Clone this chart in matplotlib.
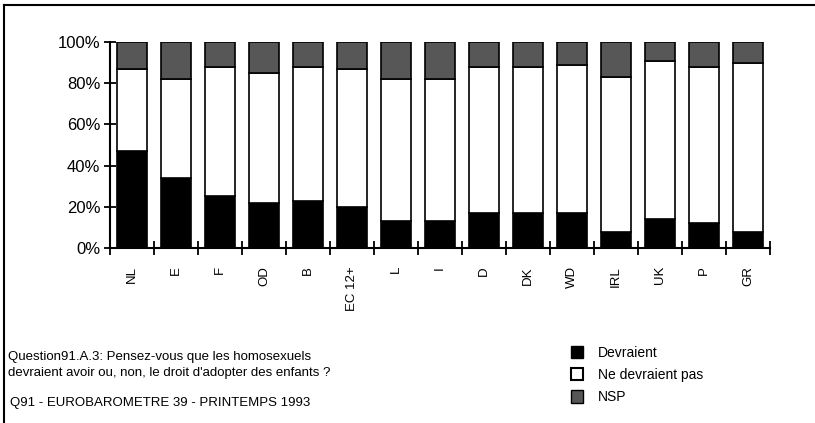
import matplotlib.pyplot as plt
import numpy as np
from matplotlib.patches import Patch

plt.rcParams['font.family'] = ['Liberation Sans', 'DejaVu Sans']

pays = ['NL', 'E', 'F', 'OD', 'B', 'EC 12+', 'L', 'I', 'D', 'DK', 'WD', 'IRL', 'UK', 'P', 'GR']
devraient = [47, 34, 25, 22, 23, 20, 13, 13, 17, 17, 17, 8, 14, 12, 8]
ne_devraient_pas = [40, 48, 63, 63, 65, 67, 69, 69, 71, 71, 72, 75, 77, 76, 82]
nsp = [13, 18, 12, 15, 12, 13, 18, 18, 12, 12, 11, 17, 9, 12, 10]

if __name__ == '__main__':
    fig = plt.figure(figsize=(8.15, 4.23), dpi=100)
    ax = fig.add_axes([110 / 815, 1 - 248 / 423, 660 / 815, 206 / 423])

    x = np.arange(len(pays))
    dv = np.array(devraient)
    nd = np.array(ne_devraient_pas)
    ns = np.array(nsp)
    w = 0.68
    gris = '#575757'
    ax.bar(x, dv, w, color='black', edgecolor='black', linewidth=1.2)
    ax.bar(x, nd, w, bottom=dv, color='white', edgecolor='black', linewidth=1.2)
    ax.bar(x, ns, w, bottom=dv + nd, color=gris, edgecolor='black', linewidth=1.2)

    ax.set_xlim(-0.5, len(pays) - 0.5)
    ax.set_ylim(0, 100)
    for s in ['top', 'right']:
        ax.spines[s].set_visible(False)
    ax.spines['left'].set_linewidth(1.5)
    ax.spines['bottom'].set_linewidth(1.5)

    ax.set_yticks([0, 20, 40, 60, 80, 100])
    ax.set_yticklabels(['0%', '20%', '40%', '60%', '80%', '100%'], fontsize=12)
    ax.tick_params(axis='y', direction='inout', length=8, width=1.3, pad=3)

    ax.set_xticks(x)
    ax.set_xticklabels(pays, rotation=90, fontsize=9.5, va='top')
    ax.tick_params(axis='x', length=0, pad=13)
    ax.set_xticks(np.arange(-0.5, len(pays)), minor=True)
    ax.tick_params(axis='x', which='minor', direction='inout', length=10, width=1.3)

    fig.text(8 / 815, 1 - 357 / 423, 'Question91.A.3: Pensez-vous que les homosexuels',
             fontsize=9.5, va='center')
    fig.text(8 / 815, 1 - 373 / 423, "devraient avoir ou, non, le droit d'adopter des enfants ?",
             fontsize=9.5, va='center')
    fig.text(10 / 815, 1 - 403 / 423, 'Q91 - EUROBAROMETRE 39 - PRINTEMPS 1993',
             fontsize=9.5, va='center')

    handles = [
        Patch(facecolor='black', edgecolor='black', label='Devraient'),
        Patch(facecolor='white', edgecolor='black', linewidth=1.5, label='Ne devraient pas'),
        Patch(facecolor=gris, edgecolor='black', label='NSP'),
    ]
    fig.legend(handles=handles, loc='upper left', bbox_to_anchor=(558 / 815, 1 - 333 / 423),
               frameon=False, fontsize=10, handlelength=0.9, handleheight=1.0,
               handletextpad=1.1, labelspacing=0.6)

    # cadre
    fig.add_artist(plt.Line2D([4 / 815, 4 / 815], [0, 1 - 5 / 423], color='black', linewidth=1.5))
    fig.add_artist(plt.Line2D([4 / 815, 1], [1 - 5 / 423, 1 - 5 / 423], color='black', linewidth=1.5))

    fig.savefig('out.png', dpi=100)
